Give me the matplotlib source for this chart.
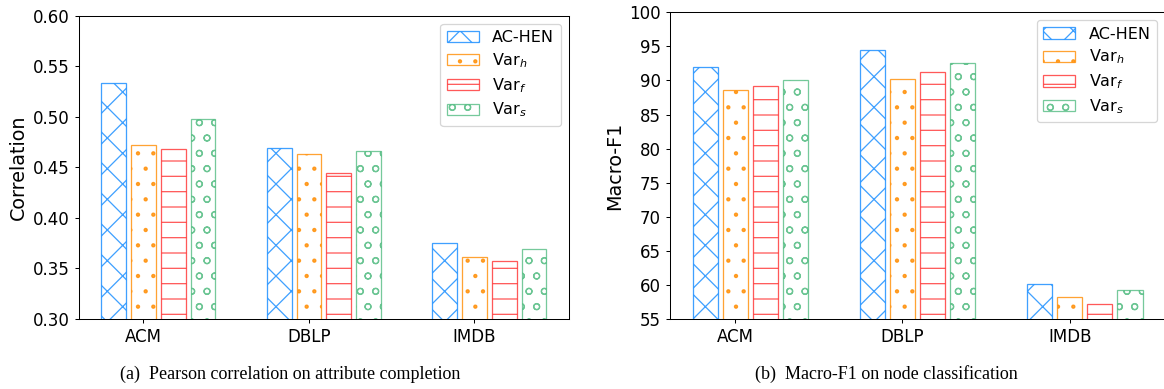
import numpy as np
import matplotlib
matplotlib.use("Agg")
import matplotlib.pyplot as plt

categories = ["ACM", "DBLP", "IMDB"]
series_names = ["AC-HEN", "Var$_h$", "Var$_f$", "Var$_s$"]

corr_achen = [0.533, 0.469, 0.375]
corr_varh = [0.472, 0.463, 0.361]
corr_varf = [0.468, 0.444, 0.357]
corr_vars = [0.498, 0.466, 0.369]

f1_achen = [92.0, 94.4, 60.2]
f1_varh = [88.6, 90.2, 58.2]
f1_varf = [89.2, 91.2, 57.2]
f1_vars = [90.0, 92.5, 59.3]

corr_ticks = [0.30, 0.35, 0.40, 0.45, 0.50, 0.55, 0.60]
f1_ticks = [55, 60, 65, 70, 75, 80, 85, 90, 95, 100]

colors = ["#1E90FF", "#FF8C00", "#FF3030", "#3CB371"]
alphas = [0.85, 0.8, 0.8, 0.7]
hatches = ["x", ".", "-", "o"]
offsets = [-0.18, 0.0, 0.18, 0.36]
width = 0.15

DPI = 92
fig = plt.figure(figsize=(1164 / DPI, 389 / DPI), dpi=DPI)
ax1 = fig.add_axes([79 / 1164, 70 / 389, 489.7 / 1164, 303.3 / 389])
ax2 = fig.add_axes([670 / 1164, 70 / 389, 495 / 1164, 306.7 / 389])

x = np.arange(len(categories))


def draw(ax, data, ylim, ticks, ylabel, fmt):
    for i, vals in enumerate(data):
        ax.bar(x + offsets[i], vals, width, color="white",
               edgecolor=colors[i], hatch=hatches[i], linewidth=1.0,
               alpha=alphas[i], label=series_names[i])
    ax.set_ylim(*ylim)
    ax.set_yticks(ticks)
    ax.set_yticklabels([fmt(t) for t in ticks])
    ax.set_xticks(x)
    ax.set_xticklabels(categories)
    ax.tick_params(labelsize=13)
    ax.set_ylabel(ylabel, fontsize=15)
    ax.legend(loc="upper right", fontsize=12.5, labelspacing=0.38,
              handletextpad=0.85)


draw(ax1, [corr_achen, corr_varh, corr_varf, corr_vars], (0.30, 0.60),
     corr_ticks, "Correlation", lambda t: f"{t:.2f}")
draw(ax2, [f1_achen, f1_varh, f1_varf, f1_vars], (55, 100),
     f1_ticks, "Macro-F1", lambda t: f"{t:d}")

fig.text(290 / 1164, 1 - 374 / 389, "(a)  Pearson correlation on attribute completion",
         ha="center", va="center", family="Liberation Serif", fontsize=14.1)
fig.text(886 / 1164, 1 - 374 / 389, "(b)  Macro-F1 on node classification",
         ha="center", va="center", family="Liberation Serif", fontsize=14.1)

fig.savefig("out.png", dpi=DPI)
